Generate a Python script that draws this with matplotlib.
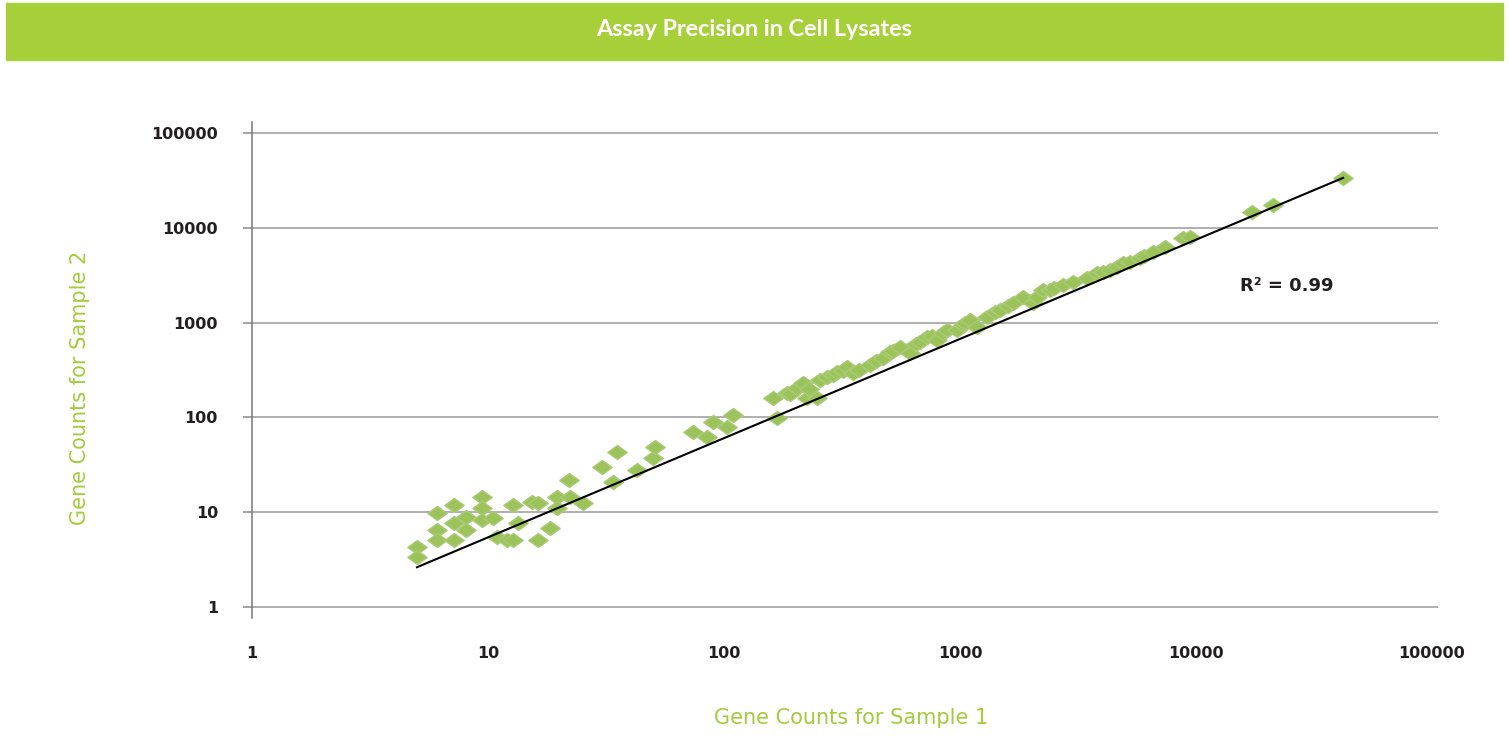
import numpy as np
import matplotlib
matplotlib.use('Agg')
import matplotlib.pyplot as plt
from matplotlib.path import Path
from matplotlib.patches import Rectangle

# gene counts
sample1 = [5, 5, 6.1, 6.1, 6.1, 7.2, 7.2, 7.2, 8.1, 8.1, 9.4, 9.4, 9.4, 10.5, 10.9,
           12.0, 12.7, 12.8, 13.4, 15.4, 16.3, 16.3, 18.3, 19.6, 19.6, 22, 22.3, 25.3,
           30.4, 33.9, 35.2, 42.8, 50, 51, 74, 85, 90, 103, 109, 168, 161, 185, 190,
           204, 216, 225, 230, 248, 255, 272, 290, 301, 320, 332, 352, 375, 416, 440,
           472, 505, 520, 557, 614, 650, 678, 724, 760, 800, 850, 881, 971, 1030,
           1050, 1102, 1180, 1300, 1400, 1476, 1600, 1678, 1849, 2038, 2128, 2248,
           2405, 2500, 2730, 3000, 3450, 3800, 4037, 4300, 4625, 4900, 5250, 5790,
           6000, 6570, 7390, 8810, 9390, 17270, 21200, 42000]
sample2 = [4.3, 3.4, 9.8, 6.5, 5.1, 11.9, 5.1, 7.7, 8.9, 6.5, 14.5, 11.1, 8.3, 8.7, 5.5,
           5.1, 5.1, 11.9, 7.7, 12.8, 12.5, 5.1, 6.8, 14.5, 11.1, 22, 14.5, 12.5,
           30, 20.8, 43, 27.9, 37, 48.7, 70, 62, 89, 79, 106, 99, 160, 181, 175,
           204, 231, 160, 200, 160, 248, 266, 280, 301, 310, 340, 294, 317, 357, 390,
           424, 490, 500, 553, 478, 600, 624, 705, 720, 654, 780, 835, 835, 944,
           1000, 1065, 899, 1146, 1300, 1358, 1500, 1610, 1862, 1610, 1862, 2208,
           2208, 2300, 2494, 2700, 2953, 3300, 3420, 3600, 3858, 4200, 4355, 4800,
           5000, 5560, 6270, 7800, 8000, 14680, 17400, 33500]

# power-law trend line end points
trend_x = [5, 42000]
trend_y = [2.64, 33500]

decades = [1, 10, 100, 1000, 10000, 100000]
decade_labels = ['1', '10', '100', '1000', '10000', '100000']

green_bar = '#a7cf39'
green_pt = '#9cc35a'
green_txt = '#a2cc3a'
dark = '#231f20'

fig = plt.figure(figsize=(15.09, 7.36), dpi=100, facecolor='white')
fig.patches.append(Rectangle((6 / 1509, 1 - 60 / 736), 1497 / 1509, 57 / 736,
                             transform=fig.transFigure, color=green_bar, zorder=0))
fig.text(0.5, 1 - 30 / 736, 'Assay Precision in Cell Lysates', color='white',
         fontsize=16.8, fontweight='bold', ha='center', va='center',
         family=['Lato', 'DejaVu Sans'])

ax = fig.add_axes([252 / 1509, 1 - 618 / 736, (1438 - 252) / 1509, (618 - 122) / 736])
ax.set_xscale('log')
ax.set_yscale('log')
ax.set_xlim(1, 1.06e5)
ax.set_ylim(0.77, 1.3e5)

diamond = Path([(-1, 0), (0, 0.72), (1, 0), (0, -0.72), (-1, 0)],
               [Path.MOVETO, Path.LINETO, Path.LINETO, Path.LINETO, Path.CLOSEPOLY])
ax.scatter(sample1, sample2, marker=diamond, s=14 ** 2, color=green_pt,
           edgecolors='#a9cb78', linewidths=1.0, zorder=3)
ax.plot(trend_x, trend_y, color='black', linewidth=1.5, zorder=4)

ax.set_xticks(decades)
ax.set_xticklabels(decade_labels)
ax.set_yticks(decades)
ax.set_yticklabels(decade_labels)
ax.minorticks_off()
ax.tick_params(axis='x', length=0, pad=20, labelsize=11.5, labelcolor=dark)
ax.tick_params(axis='y', length=6.5, width=1.1, color='#8a8a8a', pad=18,
               labelsize=11.5, labelcolor=dark)
for lab in ax.get_xticklabels() + ax.get_yticklabels():
    lab.set_fontweight('bold')

ax.grid(axis='y', color='#9a9a9a', linewidth=1.1)
ax.set_axisbelow(True)
for s in ['top', 'right', 'bottom']:
    ax.spines[s].set_visible(False)
ax.spines['left'].set_color('#777777')
ax.spines['left'].set_linewidth(1.1)

fig.text(851 / 1509, 1 - 718 / 736, 'Gene Counts for Sample 1', color=green_txt,
         fontsize=15, ha='center', va='center')
fig.text(80 / 1509, 1 - 388 / 736, 'Gene Counts for Sample 2', color=green_txt,
         fontsize=15, ha='center', va='center', rotation=90)
fig.text(1240 / 1509, 1 - 286 / 736, 'R² = 0.99', color=dark, fontsize=13,
         fontweight='bold', ha='left', va='center')

fig.savefig('out.png', dpi=100, facecolor='white')
